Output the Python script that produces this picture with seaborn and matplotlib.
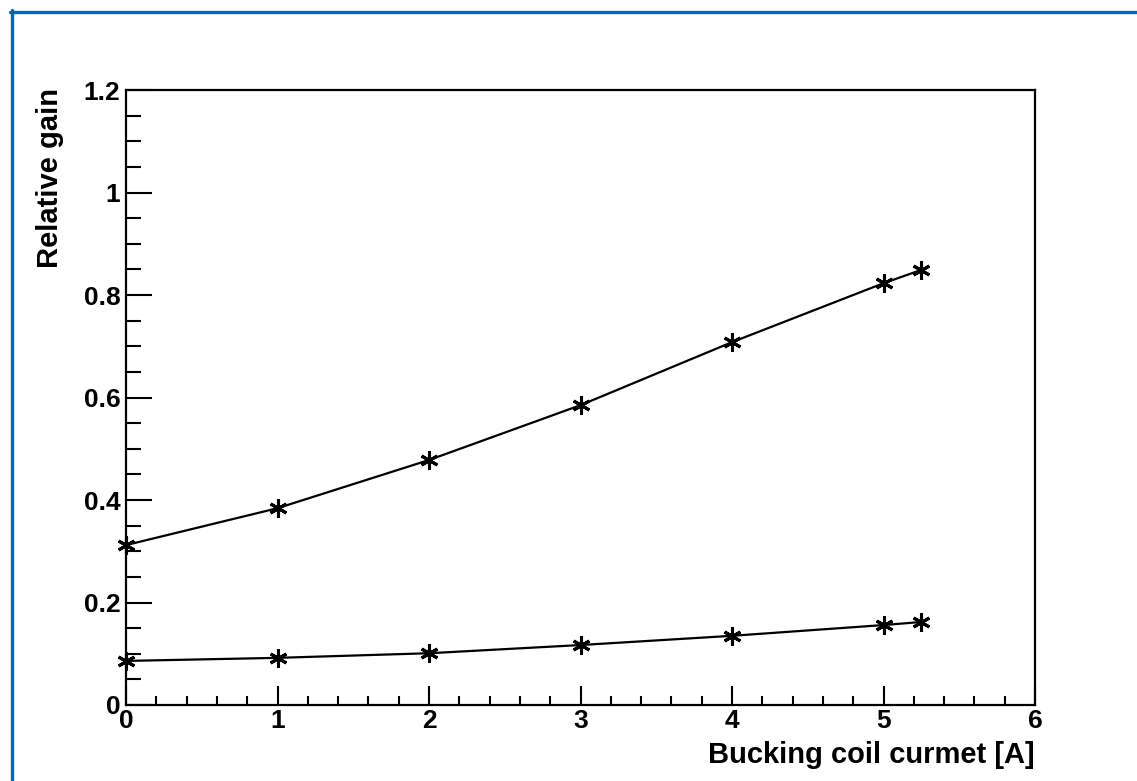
import numpy as np
import pandas as pd
import matplotlib
matplotlib.use("Agg")
import matplotlib.pyplot as plt
from matplotlib.lines import Line2D
from matplotlib.ticker import MultipleLocator
import seaborn as sns

current = [0, 1, 2, 3, 4, 5, 5.25]
gain_upper = [0.312, 0.384, 0.478, 0.585, 0.708, 0.823, 0.849]
gain_lower = [0.086, 0.092, 0.101, 0.117, 0.135, 0.156, 0.162]
x_label = "Bucking coil curmet [A]"
y_label = "Relative gain"

sns.set_style("ticks")
plt.rcParams['font.family'] = ['Liberation Sans', 'DejaVu Sans']
plt.rcParams['font.weight'] = 'bold'
plt.rcParams['text.color'] = 'black'
plt.rcParams['xtick.color'] = 'black'
plt.rcParams['ytick.color'] = 'black'
plt.rcParams['xtick.labelcolor'] = 'black'
plt.rcParams['ytick.labelcolor'] = 'black'
plt.rcParams['axes.labelcolor'] = 'black'

fig = plt.figure(figsize=(11.37, 7.81), dpi=100)
ax = fig.add_axes([126/1137, 1-705/781, (1035-126)/1137, (705-90)/781])

df_u = pd.DataFrame({"x": current, "y": gain_upper})
df_l = pd.DataFrame({"x": current, "y": gain_lower})
for d in (df_u, df_l):
    sns.lineplot(data=d, x="x", y="y", ax=ax, color="black", linewidth=1.6,
                 marker=(6, 2, 0), markersize=13, markeredgewidth=2.2,
                 markeredgecolor="black", markerfacecolor="black", clip_on=False)

ax.set_xlim(0, 6)
ax.set_ylim(0, 1.2)
ax.xaxis.set_minor_locator(MultipleLocator(0.2))
ax.yaxis.set_minor_locator(MultipleLocator(0.05))
ax.set_xticks([0, 1, 2, 3, 4, 5, 6])
ax.set_xticklabels(["0", "1", "2", "3", "4", "5", "6"])
ax.set_yticks([0, 0.2, 0.4, 0.6, 0.8, 1.0, 1.2])
ax.set_yticklabels(["0", "0.2", "0.4", "0.6", "0.8", "1", "1.2"])

ax.tick_params(axis='both', which='both', direction='in', top=False, right=False,
               color='black', labelcolor='black', width=1.5, labelsize=19)
ax.tick_params(axis='x', which='major', length=13.7, pad=3)
ax.tick_params(axis='x', which='minor', length=6.5)
ax.tick_params(axis='y', which='major', length=18.7, pad=4)
ax.tick_params(axis='y', which='minor', length=10.8)
for lab in ax.get_xticklabels() + ax.get_yticklabels():
    lab.set_fontweight('bold')

for s in ax.spines.values():
    s.set_linewidth(1.6)
    s.set_color('black')

ax.set_xlabel("")
ax.set_ylabel("")
fig.text(1035/1137, 1-755/781, x_label, ha='right', va='center',
         fontsize=21, fontweight='bold', color='black')
fig.text(50/1137, 1-88/781, y_label, ha='center', va='top', rotation=90,
         fontsize=21, fontweight='bold', color='black')

blue = "#0066cc"
fig.add_artist(Line2D([10/1137, 1], [1-11.5/781, 1-11.5/781], transform=fig.transFigure,
                      color=blue, linewidth=2.4))
fig.add_artist(Line2D([11.5/1137, 11.5/1137], [0, 1-10/781], transform=fig.transFigure,
                      color=blue, linewidth=2.4))

fig.savefig("out.png", dpi=100)
